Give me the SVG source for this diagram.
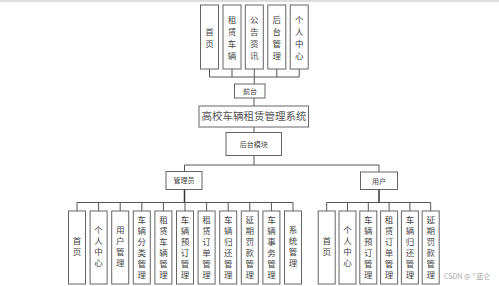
<svg xmlns="http://www.w3.org/2000/svg" width="499" height="286" viewBox="0 0 499 286">
<style>
.b{fill:#fff;stroke:#666;stroke-width:1}
.t{font-family:"Noto Sans CJK SC","Noto Sans",sans-serif;fill:#444;text-anchor:middle}
.v{font-size:8.5px}
.s{font-size:7px}
.c line,.c polyline{stroke:#555;stroke-width:1;fill:none}
</style>
<rect width="499" height="286" fill="#fff"/>
<line x1="0" y1="1" x2="499" y2="1" stroke="#bbb" stroke-width="1"/>
<g class="c" id="connectors">
<line x1="209.5" y1="69" x2="209.5" y2="77"/>
<line x1="232" y1="69" x2="232" y2="77"/>
<line x1="254.3" y1="69" x2="254.3" y2="84"/>
<line x1="276.8" y1="69" x2="276.8" y2="77"/>
<line x1="299.2" y1="69" x2="299.2" y2="77"/>
<line x1="209.5" y1="77" x2="299.2" y2="77"/>
<line x1="254" y1="98" x2="254" y2="106"/>
<line x1="254" y1="127" x2="254" y2="132.5"/>
<line x1="254" y1="155.5" x2="254" y2="165"/>
<polyline points="184.5,171.5 184.5,165 379,165 379,172"/>
<line x1="184.5" y1="189.5" x2="184.5" y2="202.5" style="stroke:#333;stroke-width:1.5"/>
<line x1="379" y1="189.5" x2="379" y2="202.5" style="stroke:#333;stroke-width:1.5"/>
<line x1="77" y1="202.5" x2="293" y2="202.5"/>
<line x1="326.7" y1="202.5" x2="430.7" y2="202.5"/>
<line x1="77" y1="202.5" x2="77" y2="211"/>
<line x1="98.6" y1="202.5" x2="98.6" y2="211"/>
<line x1="120.2" y1="202.5" x2="120.2" y2="211"/>
<line x1="141.8" y1="202.5" x2="141.8" y2="211"/>
<line x1="163.4" y1="202.5" x2="163.4" y2="211"/>
<line x1="185" y1="202.5" x2="185" y2="211"/>
<line x1="206.6" y1="202.5" x2="206.6" y2="211"/>
<line x1="228.2" y1="202.5" x2="228.2" y2="211"/>
<line x1="249.8" y1="202.5" x2="249.8" y2="211"/>
<line x1="271.4" y1="202.5" x2="271.4" y2="211"/>
<line x1="293" y1="202.5" x2="293" y2="211"/>
<line x1="326.7" y1="202.5" x2="326.7" y2="211"/>
<line x1="347.5" y1="202.5" x2="347.5" y2="211"/>
<line x1="368.3" y1="202.5" x2="368.3" y2="211"/>
<line x1="389.1" y1="202.5" x2="389.1" y2="211"/>
<line x1="409.9" y1="202.5" x2="409.9" y2="211"/>
<line x1="430.7" y1="202.5" x2="430.7" y2="211"/>
</g>
<!-- top row -->
<g id="n-home"><rect class="b" x="200.5" y="5" width="18" height="64"/><text class="t v"><tspan x="209.5" y="35">首</tspan><tspan x="209.5" y="47">页</tspan></text></g>
<g id="n-rent"><rect class="b" x="223" y="5" width="18" height="64"/><text class="t v"><tspan x="232" y="23">租</tspan><tspan x="232" y="35">赁</tspan><tspan x="232" y="47">车</tspan><tspan x="232" y="59">辆</tspan></text></g>
<g id="n-news"><rect class="b" x="245.3" y="5" width="18" height="64"/><text class="t v"><tspan x="254.3" y="23">公</tspan><tspan x="254.3" y="35">告</tspan><tspan x="254.3" y="47">资</tspan><tspan x="254.3" y="59">讯</tspan></text></g>
<g id="n-back"><rect class="b" x="267.8" y="5" width="18" height="64"/><text class="t v"><tspan x="276.8" y="23">后</tspan><tspan x="276.8" y="35">台</tspan><tspan x="276.8" y="47">管</tspan><tspan x="276.8" y="59">理</tspan></text></g>
<g id="n-me"><rect class="b" x="290.2" y="5" width="18" height="64"/><text class="t v"><tspan x="299.2" y="23">个</tspan><tspan x="299.2" y="35">人</tspan><tspan x="299.2" y="47">中</tspan><tspan x="299.2" y="59">心</tspan></text></g>
<g id="n-front"><rect class="b" x="234.5" y="84" width="30.5" height="14"/><text class="t s" x="250" y="93.8">前台</text></g>
<g id="n-main"><rect class="b" x="199" y="106" width="109.5" height="21"/><text class="t" style="font-size:10.5px;fill:#555" x="254" y="120.3">高校车辆租赁管理系统</text></g>
<g id="n-backend"><rect class="b" x="226" y="132.5" width="55.5" height="23"/><text class="t s" x="253.7" y="146.5">后台模块</text></g>
<g id="n-admin"><rect class="b" x="166" y="171.5" width="36" height="18"/><text class="t s" x="184" y="183">管理员</text></g>
<g id="n-user"><rect class="b" x="360.5" y="172" width="37" height="17.5"/><text class="t s" x="379" y="183.5">用户</text></g>
<!-- admin row -->
<g id="a1"><rect class="b" x="68.5" y="211" width="17" height="73"/><text class="t v"><tspan x="77" y="244">首</tspan><tspan x="77" y="255">页</tspan></text></g>
<g id="a2"><rect class="b" x="90.1" y="211" width="17" height="73"/><text class="t v"><tspan x="98.6" y="233">个</tspan><tspan x="98.6" y="244">人</tspan><tspan x="98.6" y="255">中</tspan><tspan x="98.6" y="266">心</tspan></text></g>
<g id="a3"><rect class="b" x="111.7" y="211" width="17" height="73"/><text class="t v"><tspan x="120.2" y="233">用</tspan><tspan x="120.2" y="244">户</tspan><tspan x="120.2" y="255">管</tspan><tspan x="120.2" y="266">理</tspan></text></g>
<g id="a4"><rect class="b" x="133.3" y="211" width="17" height="73"/><text class="t v"><tspan x="141.8" y="223">车</tspan><tspan x="141.8" y="234">辆</tspan><tspan x="141.8" y="245">分</tspan><tspan x="141.8" y="256">类</tspan><tspan x="141.8" y="267">管</tspan><tspan x="141.8" y="278">理</tspan></text></g>
<g id="a5"><rect class="b" x="154.9" y="211" width="17" height="73"/><text class="t v"><tspan x="163.4" y="223">租</tspan><tspan x="163.4" y="234">赁</tspan><tspan x="163.4" y="245">车</tspan><tspan x="163.4" y="256">辆</tspan><tspan x="163.4" y="267">管</tspan><tspan x="163.4" y="278">理</tspan></text></g>
<g id="a6"><rect class="b" x="176.5" y="211" width="17" height="73"/><text class="t v"><tspan x="185" y="223">车</tspan><tspan x="185" y="234">辆</tspan><tspan x="185" y="245">预</tspan><tspan x="185" y="256">订</tspan><tspan x="185" y="267">管</tspan><tspan x="185" y="278">理</tspan></text></g>
<g id="a7"><rect class="b" x="198.1" y="211" width="17" height="73"/><text class="t v"><tspan x="206.6" y="223">租</tspan><tspan x="206.6" y="234">赁</tspan><tspan x="206.6" y="245">订</tspan><tspan x="206.6" y="256">单</tspan><tspan x="206.6" y="267">管</tspan><tspan x="206.6" y="278">理</tspan></text></g>
<g id="a8"><rect class="b" x="219.7" y="211" width="17" height="73"/><text class="t v"><tspan x="228.2" y="223">车</tspan><tspan x="228.2" y="234">辆</tspan><tspan x="228.2" y="245">归</tspan><tspan x="228.2" y="256">还</tspan><tspan x="228.2" y="267">管</tspan><tspan x="228.2" y="278">理</tspan></text></g>
<g id="a9"><rect class="b" x="241.3" y="211" width="17" height="73"/><text class="t v"><tspan x="249.8" y="223">延</tspan><tspan x="249.8" y="234">期</tspan><tspan x="249.8" y="245">罚</tspan><tspan x="249.8" y="256">款</tspan><tspan x="249.8" y="267">管</tspan><tspan x="249.8" y="278">理</tspan></text></g>
<g id="a10"><rect class="b" x="262.9" y="211" width="17" height="73"/><text class="t v"><tspan x="271.4" y="223">车</tspan><tspan x="271.4" y="234">辆</tspan><tspan x="271.4" y="245">事</tspan><tspan x="271.4" y="256">务</tspan><tspan x="271.4" y="267">管</tspan><tspan x="271.4" y="278">理</tspan></text></g>
<g id="a11"><rect class="b" x="284.5" y="211" width="17" height="73"/><text class="t v"><tspan x="293" y="233">系</tspan><tspan x="293" y="244">统</tspan><tspan x="293" y="255">管</tspan><tspan x="293" y="266">理</tspan></text></g>
<!-- user row -->
<g id="u1"><rect class="b" x="318.2" y="211" width="17" height="73"/><text class="t v"><tspan x="326.7" y="244">首</tspan><tspan x="326.7" y="255">页</tspan></text></g>
<g id="u2"><rect class="b" x="339" y="211" width="17" height="73"/><text class="t v"><tspan x="347.5" y="233">个</tspan><tspan x="347.5" y="244">人</tspan><tspan x="347.5" y="255">中</tspan><tspan x="347.5" y="266">心</tspan></text></g>
<g id="u3"><rect class="b" x="359.8" y="211" width="17" height="73"/><text class="t v"><tspan x="368.3" y="223">车</tspan><tspan x="368.3" y="234">辆</tspan><tspan x="368.3" y="245">预</tspan><tspan x="368.3" y="256">订</tspan><tspan x="368.3" y="267">管</tspan><tspan x="368.3" y="278">理</tspan></text></g>
<g id="u4"><rect class="b" x="380.6" y="211" width="17" height="73"/><text class="t v"><tspan x="389.1" y="223">租</tspan><tspan x="389.1" y="234">赁</tspan><tspan x="389.1" y="245">订</tspan><tspan x="389.1" y="256">单</tspan><tspan x="389.1" y="267">管</tspan><tspan x="389.1" y="278">理</tspan></text></g>
<g id="u5"><rect class="b" x="401.4" y="211" width="17" height="73"/><text class="t v"><tspan x="409.9" y="223">车</tspan><tspan x="409.9" y="234">辆</tspan><tspan x="409.9" y="245">归</tspan><tspan x="409.9" y="256">还</tspan><tspan x="409.9" y="267">管</tspan><tspan x="409.9" y="278">理</tspan></text></g>
<g id="u6"><rect class="b" x="422.2" y="211" width="17" height="73"/><text class="t v"><tspan x="430.7" y="223">延</tspan><tspan x="430.7" y="234">期</tspan><tspan x="430.7" y="245">罚</tspan><tspan x="430.7" y="256">款</tspan><tspan x="430.7" y="267">管</tspan><tspan x="430.7" y="278">理</tspan></text></g>
<text class="t" style="font-size:7px;fill:#aaa;text-anchor:start" x="444" y="279">CSDN @ ˇ蓝仑</text>
</svg>
